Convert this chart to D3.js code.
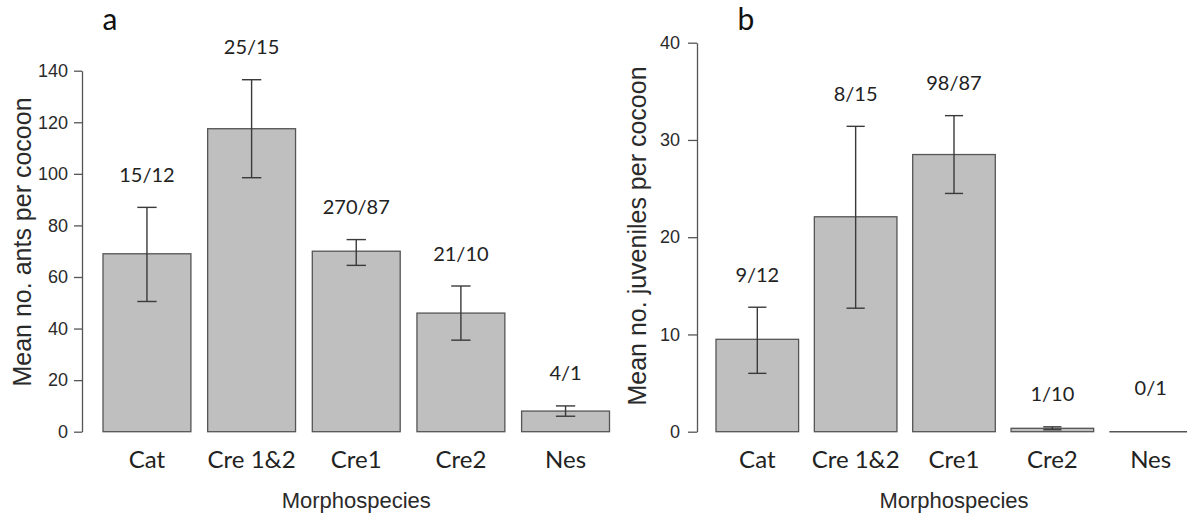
<!DOCTYPE html>
<html>
<head>
<meta charset="utf-8">
<script src="https://cdn.jsdelivr.net/npm/d3@7"></script>
<style>
  html, body { margin: 0; padding: 0; background: #fff; }
  svg { display: block; }
</style>
</head>
<body>
<svg id="chart" width="1187" height="517"></svg>
<script>
// ---- data ----
const categories = ["Cat", "Cre 1&2", "Cre1", "Cre2", "Nes"];

// panel a: mean no. ants per cocoon
const antsMean = [69, 117.5, 70, 46, 8];
const antsLow  = [50.5, 98.5, 64.5, 35.5, 6];
const antsHigh = [87, 136.5, 74.5, 56.5, 10];
const antsN    = ["15/12", "25/15", "270/87", "21/10", "4/1"];
const antsTicks = [0, 20, 40, 60, 80, 100, 120, 140];

// panel b: mean no. juveniles per cocoon
const juvMean = [9.5, 22.1, 28.5, 0.35, 0];
const juvLow  = [6, 12.7, 24.5, 0.2, null];
const juvHigh = [12.8, 31.4, 32.5, 0.5, null];
const juvN    = ["9/12", "8/15", "98/87", "1/10", "0/1"];
const juvTicks = [0, 10, 20, 30, 40];

const svg = d3.select("#chart");

function panel(opt) {
  const g = svg.append("g");
  const x = d3.scaleBand().domain(categories).range(opt.xRange).paddingInner(0.16).paddingOuter(0);
  const y = d3.scaleLinear().domain(opt.yDomain).range(opt.yRange);

  // axis
  const ax = g.append("g")
    .attr("transform", `translate(${opt.axisX},0)`)
    .call(d3.axisLeft(y).tickValues(opt.ticks).tickSize(opt.tickLen).tickSizeOuter(0).tickPadding(opt.tickPad));
  ax.select(".domain").attr("stroke", "#555").attr("stroke-width", 1.3);
  ax.selectAll(".tick line").attr("stroke", "#555").attr("stroke-width", 1.3);
  ax.selectAll(".tick text").attr("fill", "#2a2a2a").style("font-family", "'Liberation Sans', Arial, sans-serif").style("font-size", "18px");

  const rows = categories.map((c, i) => ({c, m: opt.mean[i], lo: opt.low[i], hi: opt.high[i], n: opt.n[i]}));

  // bars (zero-height bars drawn as a baseline segment)
  g.selectAll("rect.bar").data(rows.filter(d => d.m > 0)).enter().append("rect")
    .attr("class", "bar")
    .attr("x", d => x(d.c))
    .attr("y", d => y(d.m))
    .attr("width", x.bandwidth())
    .attr("height", d => y(0) - y(d.m))
    .attr("fill", "#bfbfbf")
    .attr("stroke", "#555")
    .attr("stroke-width", 1.3);
  g.selectAll("line.zero").data(rows.filter(d => d.m === 0)).enter().append("line")
    .attr("class", "zero")
    .attr("x1", d => x(d.c))
    .attr("x2", d => x(d.c) + x.bandwidth())
    .attr("y1", d => y(d.m))
    .attr("y2", d => y(d.m))
    .attr("stroke", "#555")
    .attr("stroke-width", 1.5);

  // error bars
  const cap = x.bandwidth() * 0.22;
  const eb = g.selectAll("g.err").data(rows.filter(d => d.lo !== null)).enter().append("g").attr("class", "err")
    .attr("stroke", "#3a3a3a").attr("stroke-width", 1.4);
  eb.append("line").attr("x1", d => x(d.c) + x.bandwidth() / 2).attr("x2", d => x(d.c) + x.bandwidth() / 2)
    .attr("y1", d => y(d.lo)).attr("y2", d => y(d.hi));
  eb.append("line").attr("x1", d => x(d.c) + x.bandwidth() / 2 - cap / 2).attr("x2", d => x(d.c) + x.bandwidth() / 2 + cap / 2)
    .attr("y1", d => y(d.lo)).attr("y2", d => y(d.lo));
  eb.append("line").attr("x1", d => x(d.c) + x.bandwidth() / 2 - cap / 2).attr("x2", d => x(d.c) + x.bandwidth() / 2 + cap / 2)
    .attr("y1", d => y(d.hi)).attr("y2", d => y(d.hi));

  // count labels
  g.selectAll("text.n").data(rows).enter().append("text")
    .attr("class", "n")
    .attr("x", d => x(d.c) + x.bandwidth() / 2)
    .attr("y", d => y(d.hi !== null ? d.hi : d.m) - (d.hi !== null ? 25.5 : 37))
    .attr("text-anchor", "middle")
    .attr("fill", "#222")
    .style("font-family", "Lato, 'Open Sans', sans-serif")
    .style("font-size", "20px")
    .text(d => d.n);

  // category labels
  g.selectAll("text.cat").data(rows).enter().append("text")
    .attr("class", "cat")
    .attr("x", d => x(d.c) + x.bandwidth() / 2)
    .attr("y", 468)
    .attr("text-anchor", "middle")
    .attr("fill", "#222")
    .style("font-family", "Lato, 'Open Sans', sans-serif")
    .style("font-size", "24px")
    .text(d => d.c);

  // x title
  g.append("text")
    .attr("x", (opt.xRange[0] + opt.xRange[1]) / 2)
    .attr("y", 508)
    .attr("text-anchor", "middle")
    .attr("fill", "#2a2a2a")
    .style("font-family", "'Liberation Sans', Arial, sans-serif")
    .style("font-size", "22px")
    .text("Morphospecies");

  // y title
  g.append("text")
    .attr("transform", `translate(${opt.yTitleX},${opt.yTitleY}) rotate(-90)`)
    .attr("text-anchor", "middle")
    .attr("fill", "#2a2a2a")
    .style("font-family", "'Liberation Sans', Arial, sans-serif")
    .style("font-size", "25px")
    .text(opt.yTitle);

  // panel letter
  g.append("text")
    .attr("x", opt.letterX)
    .attr("y", 30)
    .attr("text-anchor", "middle")
    .attr("fill", "#111")
    .style("font-family", "Lato, 'Open Sans', sans-serif")
    .style("font-size", "30px")
    .text(opt.letter);
}

panel({
  xRange: [103, 609.5], yDomain: [0, 140], yRange: [431.7, 70.7], axisX: 82,
  ticks: antsTicks, tickLen: 8, tickPad: 6,
  mean: antsMean, low: antsLow, high: antsHigh, n: antsN,
  yTitle: "Mean no. ants per cocoon", yTitleX: 31, yTitleY: 242,
  letter: "a", letterX: 110
});

panel({
  xRange: [716, 1192], yDomain: [0, 40], yRange: [431.7, 42.7], axisX: 697,
  ticks: juvTicks, tickLen: 9, tickPad: 8,
  mean: juvMean, low: juvLow, high: juvHigh, n: juvN,
  yTitle: "Mean no. juveniles per cocoon", yTitleX: 646, yTitleY: 236,
  letter: "b", letterX: 746
});
</script>
</body>
</html>
